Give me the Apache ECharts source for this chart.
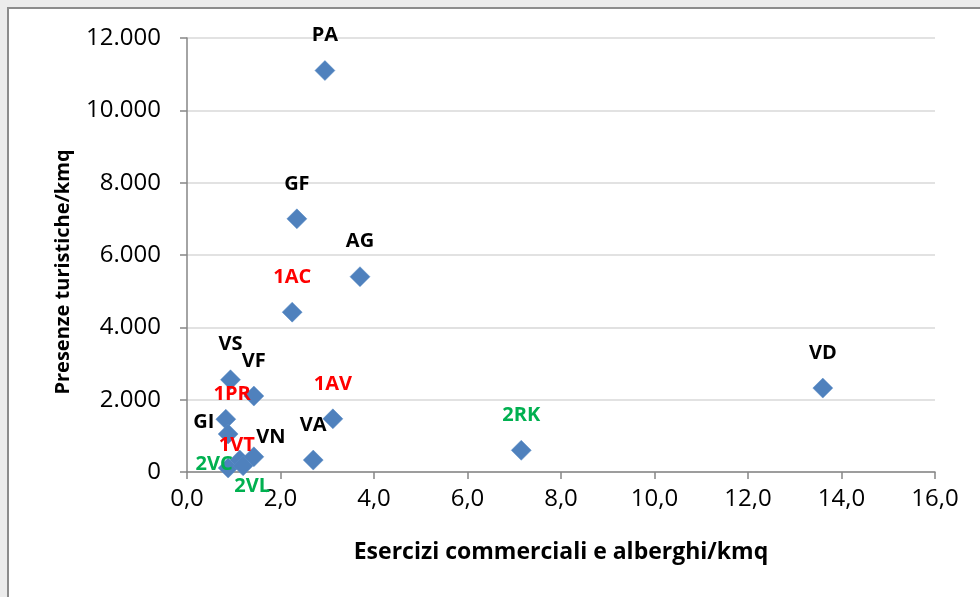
<!DOCTYPE html>
<html>
<head>
<meta charset="utf-8">
<script src="https://cdn.jsdelivr.net/npm/echarts@6/dist/echarts.min.js"></script>
<style>
html,body{margin:0;padding:0;background:#ececec;}
#chart{width:980px;height:597px;}
</style>
</head>
<body>
<div id="chart"></div>
<script>
// Data
const names  = ['PA','GF','AG','1AC','VD','1AV','VA','2RK','VS','VF','GI','1PR','1VT','VN','2VC','2VL'];
const xVals  = [2.95, 2.35, 3.70, 2.25, 13.6, 3.12, 2.70, 7.15, 0.93, 1.43, 0.83, 0.88, 1.13, 1.43, 0.88, 1.20];
const yVals  = [11100, 7000, 5400, 4420, 2320, 1470, 330, 600, 2550, 2100, 1460, 1050, 330, 420, 110, 170];
const groups = ['k','k','k','r','k','r','k','g','k','k','k','r','r','k','g','g'];
const xTicks = ['0,0','2,0','4,0','6,0','8,0','10,0','12,0','14,0','16,0'];
const yTicks = ['0','2.000','4.000','6.000','8.000','10.000','12.000'];

// Styles
const groupColor = {k:'#000000', r:'#ff0000', g:'#00b050'};
const labelOffset = {
  'GI':[-22,3], '1PR':[4,-40], '1VT':[-3,-15], 'VN':[17,-20], '2VC':[-14,-4], '2VL':[9,20]
};
const FONT = '"Open Sans", "Liberation Sans", sans-serif';

const data = names.map((n,i)=>({
  value:[xVals[i], yVals[i]],
  name:n,
  label:{
    color: groupColor[groups[i]],
    offset: labelOffset[n] || [0,-35]
  }
}));

const chart = echarts.init(document.getElementById('chart'));
chart.setOption({
  backgroundColor:'#ececec',
  animation:false,
  graphic:[{
    type:'rect', left:7, top:7, z:-10,
    shape:{width:1100, height:700},
    style:{fill:'#ffffff', stroke:'#8c8c8c', lineWidth:2}
  }],
  grid:{left:187, right:45, top:38, bottom:125, containLabel:false},
  xAxis:{
    type:'value', min:0, max:16, interval:2,
    name:'Esercizi commerciali e alberghi/kmq',
    nameLocation:'middle', nameGap:69,
    nameTextStyle:{fontFamily:FONT, fontWeight:'bold', fontSize:23, color:'#000'},
    axisLine:{show:true, lineStyle:{color:'#868686', width:1.5}},
    axisTick:{show:true, inside:false, length:7, lineStyle:{color:'#868686', width:1.5}},
    splitLine:{show:false},
    axisLabel:{
      margin:15, fontFamily:FONT, fontSize:24, color:'#000',
      formatter:(v)=>xTicks[Math.round(v/2)]
    }
  },
  yAxis:{
    type:'value', min:0, max:12000, interval:2000,
    name:'Presenze turistiche/kmq',
    nameLocation:'middle', nameGap:114, nameRotate:90,
    nameTextStyle:{fontFamily:FONT, fontWeight:'bold', fontSize:20, color:'#000', padding:[0,34,0,0]},
    axisLine:{show:true, lineStyle:{color:'#868686', width:1.5}},
    axisTick:{show:true, inside:false, length:7, lineStyle:{color:'#868686', width:1.5}},
    splitLine:{show:true, lineStyle:{color:'#d9d9d9', width:1.5}},
    axisLabel:{
      margin:26, fontFamily:FONT, fontSize:24, color:'#000',
      formatter:(v)=>yTicks[Math.round(v/2000)]
    }
  },
  series:[{
    type:'scatter',
    symbol:'diamond',
    symbolSize:20,
    itemStyle:{color:'#4f81bd', opacity:1, borderColor:'#5b8cc7', borderWidth:0.5},
    label:{
      show:true, position:'inside',
      formatter:'{b}',
      fontFamily:FONT, fontWeight:'bold', fontSize:20
    },
    data:data
  }]
});
</script>
</body>
</html>
